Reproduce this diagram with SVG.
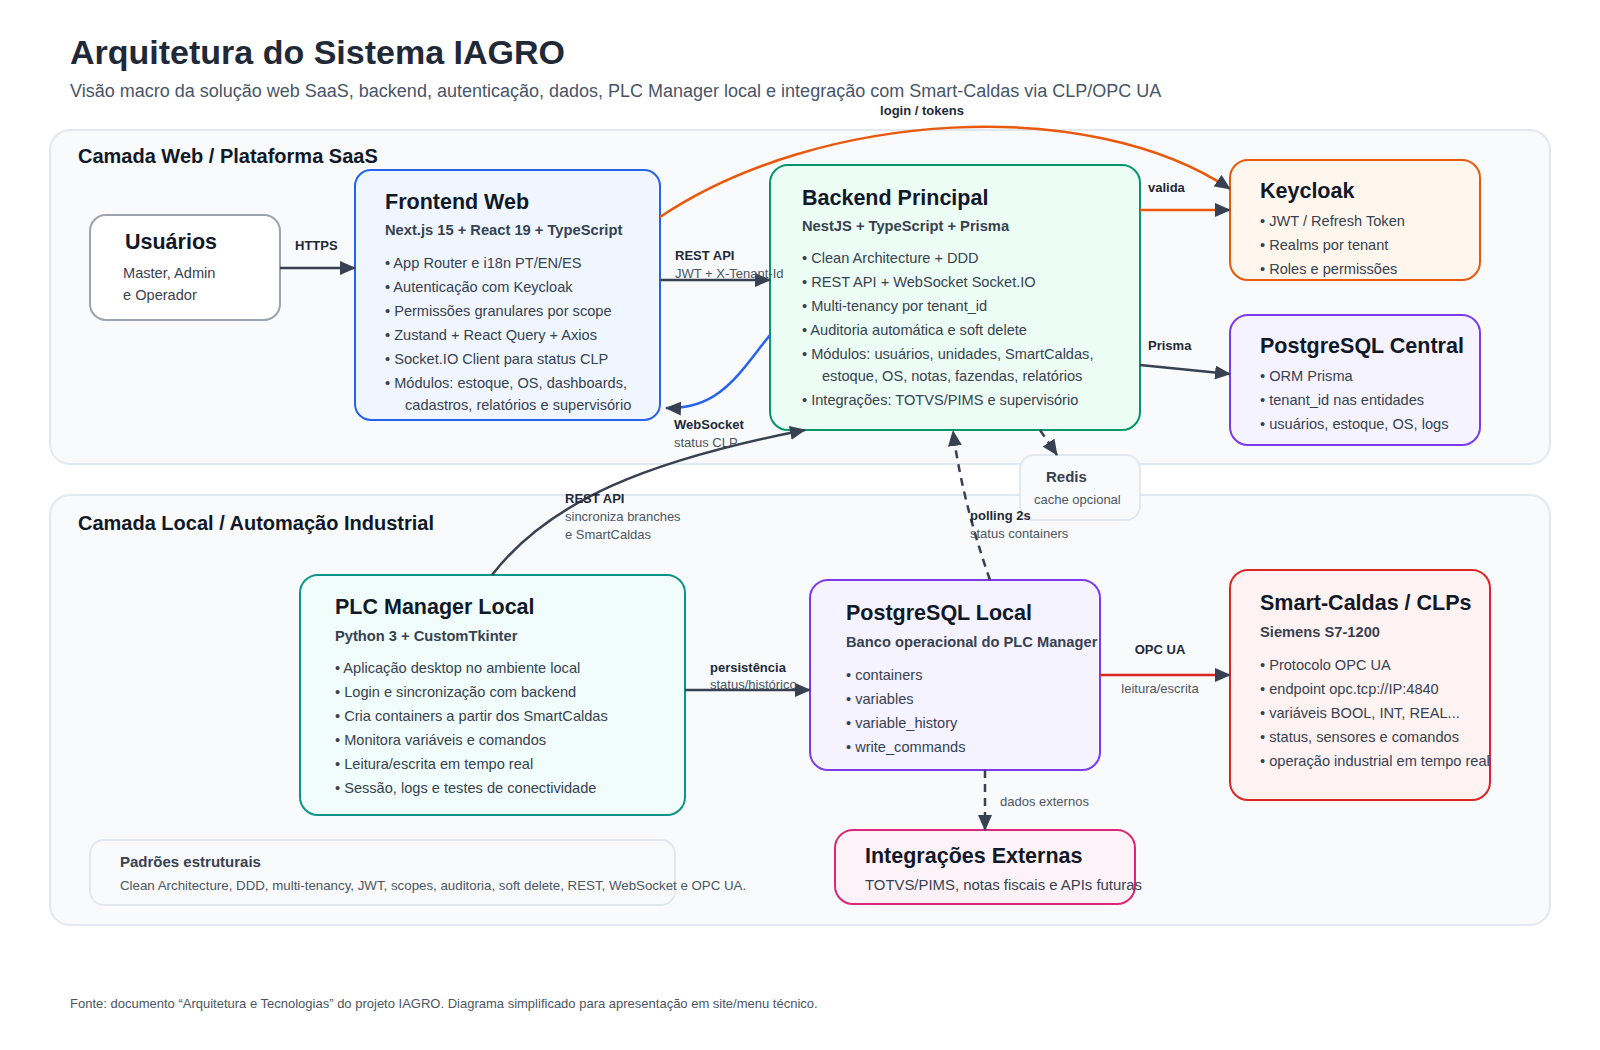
<svg xmlns="http://www.w3.org/2000/svg" width="1600" height="1050" viewBox="0 0 1600 1050">
<defs>
<style>
text{font-family:"Liberation Sans",Arial,Helvetica,sans-serif}
.h1{font-size:34px;font-weight:700;fill:#1f2937}
.sub{font-size:18px;fill:#475569}
.layer{fill:#f8fafc;stroke:#e2e8f0;stroke-width:2}
.lt{font-size:20px;font-weight:700;fill:#111827}
.nt{font-size:21.5px;font-weight:700;fill:#111827}
.ns{font-size:14.7px;font-weight:700;fill:#374151}
.b{font-size:14.6px;fill:#374151}
.lb{font-size:13px;font-weight:700;fill:#1f2937}
.ls{font-size:13px;fill:#4b5563}
.dk{fill:none;stroke:#374151;stroke-width:2.5}
.or{fill:none;stroke:#ea580c;stroke-width:2.5}
.bl{fill:none;stroke:#2563eb;stroke-width:2.5}
.rd{fill:none;stroke:#dc2626;stroke-width:2.5}
.ds{stroke-dasharray:8 6}
.foot{font-size:13px;fill:#4b5563}
</style>
<marker id="ah" markerUnits="userSpaceOnUse" markerWidth="16" markerHeight="14" refX="15" refY="7" orient="auto">
<path d="M0,0 L16,7 L0,14 z" fill="#374151"/>
</marker>
</defs>
<rect width="1600" height="1050" fill="#ffffff"/>

<text class="h1" x="70" y="64">Arquitetura do Sistema IAGRO</text>
<text class="sub" x="70" y="97">Visão macro da solução web SaaS, backend, autenticação, dados, PLC Manager local e integração com Smart-Caldas via CLP/OPC UA</text>

<g id="layer-web">
<rect class="layer" x="50" y="130" width="1500" height="334" rx="20"/>
<text class="lt" x="78" y="163">Camada Web / Plataforma SaaS</text>
</g>
<g id="layer-local">
<rect class="layer" x="50" y="495" width="1500" height="430" rx="20"/>
<text class="lt" x="78" y="530">Camada Local / Automação Industrial</text>
</g>

<g id="usuarios">
<rect x="90" y="215" width="190" height="105" rx="16" fill="#ffffff" stroke="#9ca3af" stroke-width="2"/>
<text class="nt" x="125" y="249">Usuários</text>
<text class="b" x="123" y="278">Master, Admin</text>
<text class="b" x="123" y="300">e Operador</text>
</g>

<g id="frontend">
<rect x="355" y="170" width="305" height="250" rx="16" fill="#eff6ff" stroke="#2563eb" stroke-width="2"/>
<text class="nt" x="385" y="209">Frontend Web</text>
<text class="ns" x="385" y="235">Next.js 15 + React 19 + TypeScript</text>
<text class="b" x="385" y="268">• App Router e i18n PT/EN/ES</text>
<text class="b" x="385" y="292">• Autenticação com Keycloak</text>
<text class="b" x="385" y="316">• Permissões granulares por scope</text>
<text class="b" x="385" y="340">• Zustand + React Query + Axios</text>
<text class="b" x="385" y="364">• Socket.IO Client para status CLP</text>
<text class="b" x="385" y="388">• Módulos: estoque, OS, dashboards,</text>
<text class="b" x="405" y="410">cadastros, relatórios e supervisório</text>
</g>

<g id="backend">
<rect x="770" y="165" width="370" height="265" rx="18" fill="#ecfdf5" stroke="#059669" stroke-width="2"/>
<text class="nt" x="802" y="205">Backend Principal</text>
<text class="ns" x="802" y="231">NestJS + TypeScript + Prisma</text>
<text class="b" x="802" y="263">• Clean Architecture + DDD</text>
<text class="b" x="802" y="287">• REST API + WebSocket Socket.IO</text>
<text class="b" x="802" y="311">• Multi-tenancy por tenant_id</text>
<text class="b" x="802" y="335">• Auditoria automática e soft delete</text>
<text class="b" x="802" y="359">• Módulos: usuários, unidades, SmartCaldas,</text>
<text class="b" x="822" y="381">estoque, OS, notas, fazendas, relatórios</text>
<text class="b" x="802" y="405">• Integrações: TOTVS/PIMS e supervisório</text>
</g>

<g id="keycloak">
<rect x="1230" y="160" width="250" height="120" rx="18" fill="#fff7ed" stroke="#ea580c" stroke-width="2"/>
<text class="nt" x="1260" y="198">Keycloak</text>
<text class="b" x="1260" y="226">• JWT / Refresh Token</text>
<text class="b" x="1260" y="250">• Realms por tenant</text>
<text class="b" x="1260" y="274">• Roles e permissões</text>
</g>

<g id="pg-central">
<rect x="1230" y="315" width="250" height="130" rx="18" fill="#f5f3ff" stroke="#7c3aed" stroke-width="2"/>
<text class="nt" x="1260" y="353">PostgreSQL Central</text>
<text class="b" x="1260" y="381">• ORM Prisma</text>
<text class="b" x="1260" y="405">• tenant_id nas entidades</text>
<text class="b" x="1260" y="429">• usuários, estoque, OS, logs</text>
</g>

<g id="redis">
<rect x="1020" y="455" width="120" height="65" rx="14" fill="#f9fafb" stroke="#e2e8f0" stroke-width="2"/>
<text x="1046" y="482" style="font-size:15px;font-weight:700;fill:#374151">Redis</text>
<text class="ls" x="1034" y="504">cache opcional</text>
</g>

<g id="plc-manager">
<rect x="300" y="575" width="385" height="240" rx="18" fill="#f0fdfa" stroke="#0d9488" stroke-width="2"/>
<text class="nt" x="335" y="614">PLC Manager Local</text>
<text class="ns" x="335" y="641">Python 3 + CustomTkinter</text>
<text class="b" x="335" y="673">• Aplicação desktop no ambiente local</text>
<text class="b" x="335" y="697">• Login e sincronização com backend</text>
<text class="b" x="335" y="721">• Cria containers a partir dos SmartCaldas</text>
<text class="b" x="335" y="745">• Monitora variáveis e comandos</text>
<text class="b" x="335" y="769">• Leitura/escrita em tempo real</text>
<text class="b" x="335" y="793">• Sessão, logs e testes de conectividade</text>
</g>

<g id="pg-local">
<rect x="810" y="580" width="290" height="190" rx="18" fill="#f5f3ff" stroke="#7c3aed" stroke-width="2"/>
<text class="nt" x="846" y="620">PostgreSQL Local</text>
<text class="ns" x="846" y="647">Banco operacional do PLC Manager</text>
<text class="b" x="846" y="680">• containers</text>
<text class="b" x="846" y="704">• variables</text>
<text class="b" x="846" y="728">• variable_history</text>
<text class="b" x="846" y="752">• write_commands</text>
</g>

<g id="smart-caldas">
<rect x="1230" y="570" width="260" height="230" rx="18" fill="#fef2f2" stroke="#dc2626" stroke-width="2"/>
<text class="nt" x="1260" y="610">Smart-Caldas / CLPs</text>
<text class="ns" x="1260" y="637">Siemens S7-1200</text>
<text class="b" x="1260" y="670">• Protocolo OPC UA</text>
<text class="b" x="1260" y="694">• endpoint opc.tcp://IP:4840</text>
<text class="b" x="1260" y="718">• variáveis BOOL, INT, REAL...</text>
<text class="b" x="1260" y="742">• status, sensores e comandos</text>
<text class="b" x="1260" y="766">• operação industrial em tempo real</text>
</g>

<g id="integracoes">
<rect x="835" y="830" width="300" height="74" rx="18" fill="#fdf2f8" stroke="#db2777" stroke-width="2"/>
<text class="nt" x="865" y="863">Integrações Externas</text>
<text x="865" y="890" style="font-size:14.9px;fill:#374151">TOTVS/PIMS, notas fiscais e APIs futuras</text>
</g>

<g id="padroes">
<rect x="90" y="840" width="585" height="65" rx="14" fill="#f8fafc" stroke="#e2e8f0" stroke-width="2"/>
<text x="120" y="867" style="font-size:15px;font-weight:700;fill:#374151">Padrões estruturais</text>
<text x="120" y="890" style="font-size:13.3px;fill:#4b5563">Clean Architecture, DDD, multi-tenancy, JWT, scopes, auditoria, soft delete, REST, WebSocket e OPC UA.</text>
</g>

<g id="connectors">
<path class="dk" d="M280,268 L355,268" marker-end="url(#ah)"/>
<text class="lb" x="295" y="250">HTTPS</text>

<path class="dk" d="M660,280 L770,280" marker-end="url(#ah)"/>
<text class="lb" x="675" y="260">REST API</text>
<text class="ls" x="675" y="278">JWT + X-Tenant-Id</text>

<path class="bl" d="M770,335 C740,372 720,410 666,408" marker-end="url(#ah)"/>
<text class="lb" x="674" y="429">WebSocket</text>
<text class="ls" x="674" y="447">status CLP</text>

<path class="or" d="M660,217 C820,110 1090,95 1230,189" marker-end="url(#ah)"/>
<text class="lb" x="922" y="115" text-anchor="middle">login / tokens</text>

<path class="or" d="M1140,210 L1230,210" marker-end="url(#ah)"/>
<text class="lb" x="1148" y="192">valida</text>

<path class="dk" d="M1140,365 L1230,374" marker-end="url(#ah)"/>
<text class="lb" x="1148" y="350">Prisma</text>

<path class="dk ds" d="M1040,430 L1057,455" marker-end="url(#ah)"/>

<path class="dk" d="M492,575 C550,500 650,460 805,430" marker-end="url(#ah)"/>
<text class="lb" x="565" y="503">REST API</text>
<text class="ls" x="565" y="521">sincroniza branches</text>
<text class="ls" x="565" y="539">e SmartCaldas</text>

<path class="dk ds" d="M990,580 Q962,500 953,431" marker-end="url(#ah)"/>
<text class="lb" x="970" y="520">polling 2s</text>
<text class="ls" x="970" y="538">status containers</text>

<path class="dk" d="M685,690 L810,690" marker-end="url(#ah)"/>
<text class="lb" x="710" y="672">persistência</text>
<text class="ls" x="710" y="689">status/histórico</text>

<path class="rd" d="M1100,675 L1230,675" marker-end="url(#ah)"/>
<text class="lb" x="1160" y="654" text-anchor="middle">OPC UA</text>
<text class="ls" x="1160" y="693" text-anchor="middle">leitura/escrita</text>

<path class="dk ds" d="M985,770 L985,830" marker-end="url(#ah)"/>
<text class="ls" x="1000" y="806">dados externos</text>
</g>

<text class="foot" x="70" y="1008">Fonte: documento “Arquitetura e Tecnologias” do projeto IAGRO. Diagrama simplificado para apresentação em site/menu técnico.</text>
</svg>
